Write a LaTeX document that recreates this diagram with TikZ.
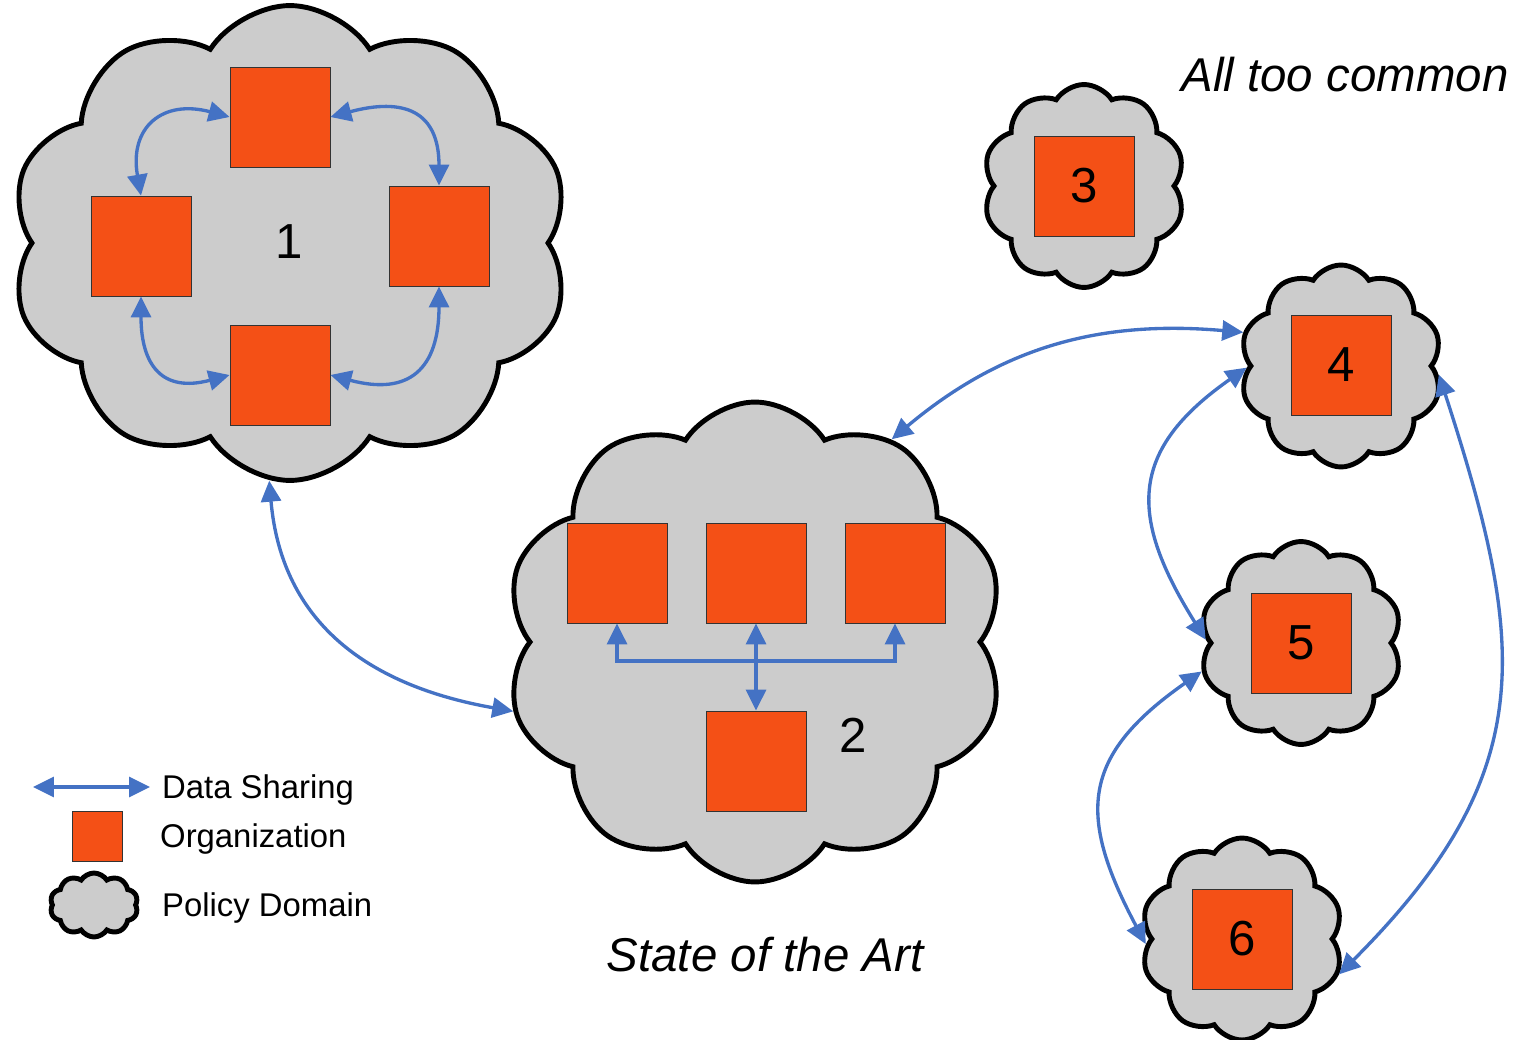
\documentclass[tikz,border=0pt]{standalone}
\usepackage{fontspec}
\setmainfont{Liberation Sans}
\usetikzlibrary{positioning, shapes.symbols, arrows.meta}
\definecolor{orgfill}{RGB}{244,80,22}
\definecolor{domainbg}{RGB}{204,204,204}
\definecolor{sharecol}{RGB}{68,114,196}

\begin{document}
\begin{tikzpicture}[
    x=0.02cm, y=-0.02cm,
    policydomain/.style={
        cloud,
        cloud puffs=10,
        cloud puff arc=115,
        draw=black,
        line width=2.8pt,
        fill=domainbg,
        inner sep=0pt
    },
    org/.style={
        rectangle,
        draw=black!80,
        line width=0.5pt,
        fill=orgfill,
        minimum size=2cm,
        inner sep=0pt,
        font=\fontsize{28}{32}\selectfont
    },
    share/.style={
        draw=sharecol,
        line width=1.9pt,
        {Triangle[length=0.42cm, width=0.4cm]}-{Triangle[length=0.42cm, width=0.4cm]}
    },
    oneway/.style={
        draw=sharecol,
        line width=1.9pt,
        -{Triangle[length=0.42cm, width=0.4cm]}
    },
    numlabel/.style={font=\fontsize{28}{32}\selectfont},
    legendtext/.style={anchor=west, font=\fontsize{18.7}{22}\selectfont},
    titletext/.style={font=\fontsize{27}{32}\selectfont\itshape}
]
\useasboundingbox (0,0) rectangle (1517,1040);

% Policy Domain 1
\node[policydomain, minimum width=11.2cm, minimum height=9.5cm] (dom1) at (290,243) {};
\node[org] (top) at (280,117) {};
\node[org] (left) at (141,246) {};
\node[org] (right) at (439,236) {};
\node[org] (bottom) at (280,375) {};
\node[numlabel] (num1) at (289,242) {1};
\draw[share] (left.north) to[out=100, in=165, looseness=1.5] (top.west);
\draw[share] (top.east) to[out=15, in=90, looseness=1.5] (right.north);
\draw[share] (left.south) to[out=-90, in=195, looseness=1.5] (bottom.west);
\draw[share] (right.south) to[out=-90, in=-15, looseness=1.5] (bottom.east);

% Policy Domain 2
\node[policydomain, minimum width=10cm, minimum height=9.6cm] (dom2) at (755,642) {};
\node[org] (orgA) at (617,573) {};
\node[org] (orgB) at (756,573) {};
\node[org] (orgC) at (895,573) {};
\node[org] (hub) at (756,761) {};
\node[numlabel] (num2) at (853,735) {2};
\coordinate (bus) at (756,661);
\draw[share] (hub.north) -- (orgB.south);
\draw[oneway] (bus) -| (orgA.south);
\draw[oneway] (bus) -| (orgC.south);

% Isolated domains
\node[policydomain, minimum width=4.04cm, minimum height=4.06cm] (dom3) at (1084,186) {};
\node[org] (org3) at (1084,186) {3};
\node[policydomain, minimum width=4.04cm, minimum height=4.04cm] (dom4) at (1341,366) {};
\node[org] (org4) at (1341,365) {4};
\node[policydomain, minimum width=4.04cm, minimum height=4.06cm] (dom5) at (1301,643) {};
\node[org] (org5) at (1301,643) {5};
\node[policydomain, minimum width=4.04cm, minimum height=4.04cm] (dom6) at (1242,939) {};
\node[org] (org6) at (1242,939) {6};

% Sharing between domains
\draw[share] (dom1.-95) to[out=-85, in=170, looseness=1.1] (dom2.196);
\draw[share] (dom2.56) to[out=40, in=175] (dom4.161);
\draw[share] (dom4.181) to[out=215, in=122, looseness=1.35] (dom5.178);
\draw[share] (dom5.196) to[out=215, in=118, looseness=1.35] (dom6.183);
\draw[share] (dom4.-5) to[out=-72, in=45, looseness=1.2] (dom6.-20);

% Legend
\coordinate (legL) at (33,787);
\coordinate (legR) at (150,787);
\draw[share] (legL) -- (legR);
\node[legendtext] (legshare) at (156,790) {Data Sharing};
\node[org, minimum size=1cm] (legorg) at (97,836) {};
\node[legendtext] (legorgtext) at (154,839) {Organization};
\node[policydomain, minimum width=1.76cm, minimum height=1.28cm] (legdom) at (94,905) {};
\node[legendtext] (legdomtext) at (156,908) {Policy Domain};

% Titles
\node[titletext] (common) at (1345,75) {All too common};
\node[titletext] (art) at (765,955) {State of the Art};

\end{tikzpicture}
\end{document}
